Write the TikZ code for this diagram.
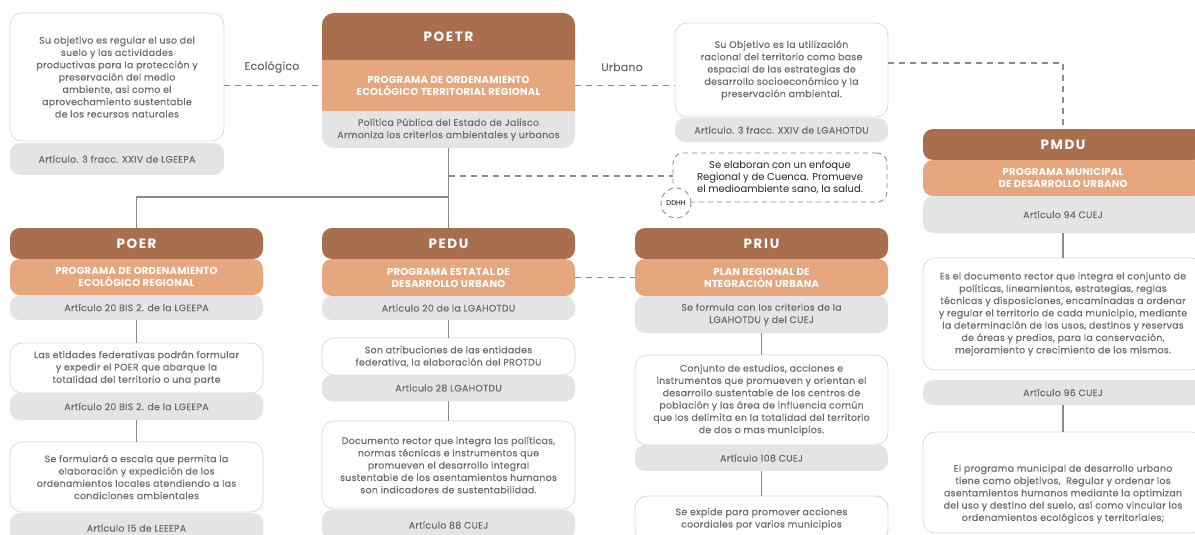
\documentclass[tikz,border=0pt]{standalone}
\usepackage{fontspec}
\setmainfont{Poppins}
\usetikzlibrary{calc}
\definecolor{dark}{HTML}{A96E4E}
\definecolor{orng}{HTML}{E6A67E}
\definecolor{artg}{HTML}{E4E4E6}
\definecolor{bord}{HTML}{DADADA}
\definecolor{txt}{HTML}{6C6C6C}
\definecolor{ln}{HTML}{8A8A8A}
\newcommand\myBody{\fontsize{9.4}{12.3}\selectfont\addfontfeature{LetterSpace=3,FakeBold=0.3}}
\tikzset{
  band/.style={rounded corners=10pt, inner sep=0pt, align=center},
  hdr/.style={band, fill=dark, text=white, font=\fontsize{13.5}{15}\selectfont\bfseries\addfontfeature{LetterSpace=12}},
  sub/.style={band, fill=orng, text=white, font=\fontsize{10.1}{12}\selectfont\bfseries\addfontfeature{LetterSpace=2}},
  art/.style={band, fill=artg, text=txt, font=\myBody},
  desc/.style={band, fill=white, draw=bord, line width=0.8pt, text=txt, font=\myBody, rounded corners=12pt},
  plain/.style={inner sep=0pt, align=center, text=txt, font=\myBody},
  conn/.style={draw=ln, line width=1.1pt},
  dconn/.style={draw=ln, line width=1.1pt, dash pattern=on 6pt off 5pt},
  lbl/.style={inner sep=0pt, text=txt, font=\fontsize{11}{12}\selectfont\addfontfeature{LetterSpace=2,FakeBold=0.3}},
}
\begin{document}
\begin{tikzpicture}[x=1pt,y=-1pt]
\useasboundingbox (0,0) rectangle (1195,535);
\clip (0,0) rectangle (1195,535);
\fill[white] (0,0) rectangle (1195,535);

% ---------- top left
\node[desc, minimum width=214, minimum height=128] (tl) at (117,77)
 {Su objetivo es regular el uso del\\ suelo y las actividades\\ productivas para la protección y\\ preservación del medio\\ ambiente, asi como el\\ aprovechamiento sustentable\\ de los recursos naturales};
\node[art, minimum width=214, minimum height=32] (tlA) at (117,159) {Artículo. 3 fracc. XXIV de LGEEPA};
\node[lbl] (eco) at (272,67) {Ecológico};

% ---------- POETR
\fill[artg, rounded corners=12pt] (322,13) rectangle (575,148);
\fill[dark, rounded corners=12pt] (322,13) rectangle (575,75);
\fill[orng] (322,60) rectangle (575,111);
\node[inner sep=0pt, minimum width=253, minimum height=135] (poetrBox) at (448.5,80.5) {};
\node[hdr, fill=none] (poetrH) at (448.5,36.5) {POETR};
\node[sub, fill=none] (poetrO) at (448.5,85.5) {PROGRAMA DE ORDENAMIENTO\\ECOLÓGICO TERRITORIAL REGIONAL};
\node[plain] (poetrG) at (448.5,129.5) {Política Pública del Estado de Jalisco\\Armoniza los criterios ambientales y urbanos};
\node[lbl] (urb) at (622,67) {Urbano};

% ---------- top right
\node[desc, minimum width=213, minimum height=94] (tr) at (781.5,70)
 {Su Objetivo es la utilización\\ racional del territorio como base\\ espacial de las estrategias de\\ desarrollo socioeconómico y la\\ preservación ambiental.};
\node[art, minimum width=213, minimum height=24] (trA) at (781.5,130) {Artículo. 3 fracc. XXIV de LGAHOTDU};

% ---------- dashed note
\node[band, draw=ln, line width=0.9pt, dash pattern=on 5pt off 4pt, minimum width=214, minimum height=49,
      text=black!85, font=\fontsize{10}{12.3}\selectfont] (db) at (780,177.5)
 {Se elaboran con un enfoque\\Regional y de Cuenca. Promueve\\el medioambiente sano, la salud.};
\node[circle, draw=ln, line width=0.9pt, dash pattern=on 5pt off 4pt, fill=white, minimum size=30, inner sep=0pt,
      text=black, font=\fontsize{6.8}{7}\selectfont] (ddhh) at (676,203) {DDHH};

% ---------- POER
\node[hdr, minimum width=253, minimum height=31] (poerH) at (136.5,243.5) {POER};
\node[sub, minimum width=253, minimum height=36] (poerO) at (136.5,277) {PROGRAMA DE ORDENAMIENTO\\ECOLÓGICO REGIONAL};
\node[art, minimum width=253, minimum height=25] (poerA) at (136.5,307.5) {Artículo 20 BIS 2. de la LGEEPA};
\node[desc, minimum width=253, minimum height=50] (poer1) at (136.5,368)
 {Las etidades federativas podrán formular\\ y expedir el POER que abarque la\\ totalidad del territorio o una parte};
\node[art, minimum width=253, minimum height=27] (poer1A) at (136.5,406.5) {Artículo 20 BIS 2. de la LGEEPA};
\node[desc, minimum width=253, minimum height=70] (poer2) at (136.5,477)
 {Se formulará a escala que permita la\\ elaboración y expedición de los\\ ordenamientos locales atendiendo a las\\ condiciones ambientales};
\node[art, minimum width=253, minimum height=30] (poer2A) at (136.5,528) {Artículo 15 de LEEEPA};

% ---------- PEDU
\node[hdr, minimum width=253, minimum height=31] (peduH) at (448.5,243.5) {PEDU};
\node[sub, minimum width=253, minimum height=37] (peduO) at (448.5,277.5) {PROGRAMA ESTATAL DE\\DESARROLLO URBANO};
\node[art, minimum width=253, minimum height=24] (peduA) at (448.5,308) {Articulo 20 de la LGAHOTDU};
\node[desc, minimum width=253, minimum height=37] (pedu1) at (448.5,356.5)
 {Son atribuciones de las entidades\\federativa, la elaboración del PROTDU};
\node[art, minimum width=253, minimum height=26] (pedu1A) at (448.5,388) {Articulo 28 LGAHOTDU};
\node[desc, minimum width=253, minimum height=88] (pedu2) at (448.5,465)
 {Documento rector que integra las políticas,\\ normas técnicas e instrumentos que\\ promueven el desarrollo integral\\ sustentable de los asentamientos humanos\\ son indicadores de sustentabilidad.};
\node[art, minimum width=253, minimum height=30] (pedu2A) at (448.5,525) {Artículo 88 CUEJ};

% ---------- PRIU
\node[hdr, minimum width=253, minimum height=31] (priuH) at (761.5,243.5) {PRIU};
\node[sub, minimum width=253, minimum height=37] (priuO) at (761.5,277.5) {PLAN REGIONAL DE\\NTEGRACIÓN URBANA};
\node[art, minimum width=253, minimum height=37] (priuA) at (761.5,314.5) {Se formula con los criterios de la\\LGAHOTDU y del CUEJ};
\node[desc, minimum width=253, minimum height=90] (priu1) at (761.5,400)
 {Conjunto de estudios, acciones e\\ instrumentos que promueven y orientan el\\ desarrollo sustentable de los centros de\\ población y las área de influencia común\\ que los delimita en la totalidad del territorio\\ de dos o mas municipios.};
\node[art, minimum width=253, minimum height=26] (priu1A) at (761.5,458) {Artículo 108 CUEJ};
\node[desc, minimum width=253, minimum height=46] (priu2) at (761.5,519)
 {Se expide para promover acciones\\coordiales por varios municipios};

% ---------- PMDU
\node[hdr, minimum width=280, minimum height=31] (pmH) at (1063,144.5) {PMDU};
\node[sub, minimum width=280, minimum height=36] (pmO) at (1063,178) {PROGRAMA MUNICIPAL\\DE DESARROLLO URBANO};
\node[art, minimum width=280, minimum height=37] (pmA) at (1063,214.5) {Artículo 94 CUEJ};
\node[desc, minimum width=280, minimum height=112] (pm1) at (1063,314)
 {Es el documento rector que integra el conjunto de\\ políticas, lineamientos, estrategias, reglas\\ técnicas y disposiciones, encaminadas a ordenar\\ y regular el territorio de cada municipio, mediante\\ la determinación de los usos, destinos y reservas\\ de áreas y predios, para la conservación,\\ mejoramiento y crecimiento de los mismos.};
\node[art, minimum width=280, minimum height=25] (pm1A) at (1063,392.5) {Artículo 96 CUEJ};
\node[desc, minimum width=280, minimum height=101] (pm2) at (1063,482.5) {};
\node[plain] (pm2t) at (1063,494)
 {El programa municipal de desarrollo urbano\\ tiene como objetivos,\ \ Regular y ordenar los\\ asentamientos humanos mediante la optimizan\\ del uso y destino del suelo, así como vincular los\\ ordenamientos ecológicos y territoriales;};

% ---------- connectors
\coordinate (j1) at (448.5,197);
\coordinate (j2) at (448.5,176);
\draw[conn] (poetrBox.south) -- (peduH.north);
\draw[conn] (j1) -| (poerH.north);
\draw[dconn] (j2) -- (j2 -| db.west);
\draw[dconn] (tl.east |- poetrO) -- (poetrBox.west |- poetrO);
\draw[dconn] (poetrBox.east |- poetrO) -- (tr.west |- poetrO);
\draw[dconn] ([yshift=7pt]tr.east) -| (pmH.north);
\draw[dconn] (peduO.east) -- (priuO.west);
\draw[conn] (poerA.south) -- (poer1.north);
\draw[conn] (poer1A.south) -- (poer2.north);
\draw[conn] (peduA.south) -- (pedu1.north);
\draw[conn] (pedu1A.south) -- (pedu2.north);
\draw[conn] (priuA.south) -- (priu1.north);
\draw[conn] (priu1A.south) -- (priu2.north);
\draw[conn] (pmA.south) -- (pm1.north);
\draw[conn] (pm1A.south) -- (pm2.north);
\end{tikzpicture}
\end{document}
